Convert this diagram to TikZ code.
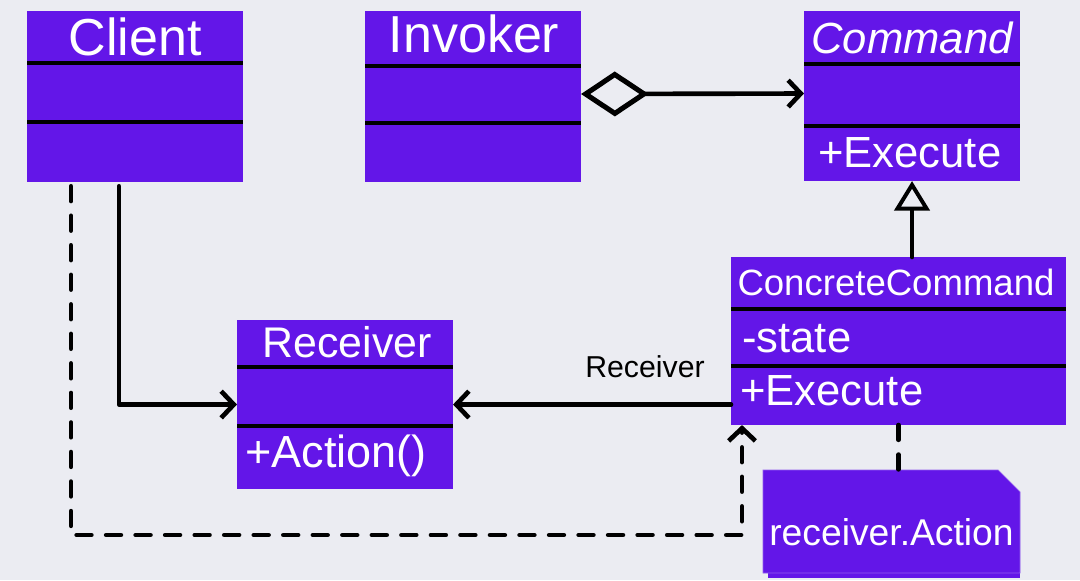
\documentclass[tikz,border=0pt]{standalone}
\usepackage{fontspec}
\setmainfont{Liberation Sans}
\usepackage{xcolor}
\usepackage{tikz}
\usetikzlibrary{positioning, arrows.meta, calc}

\definecolor{classfill}{RGB}{99,22,232}
\definecolor{canvas}{RGB}{235,236,242}

\begin{document}
\begin{tikzpicture}[x=0.025cm, y=-0.025cm,
    classbox/.style={rectangle, fill=classfill, anchor=north west, inner sep=0pt, outer sep=0pt, minimum width=5.4cm},
    divider/.style={line width=2.4pt, black},
    title/.style={text=white, anchor=base, inner sep=0pt},
    member/.style={text=white, anchor=base west, inner sep=0pt, font=\fontsize{31}{34}\selectfont},
    link/.style={line width=3.3pt, line cap=round, line join=round},
    dashlink/.style={link, dash pattern=on 10.5pt off 10.5pt},
    barb/.style={-{Straight Barb[length=9pt, width=19pt]}}
  ]
  % canvas
  \fill[canvas] (0,0) rectangle (1080,580);
  \useasboundingbox (0,0) rectangle (1080,580);

  % classes
  \node[classbox, minimum height=4.275cm] (client) at (27,11) {};
  \draw[divider] (client.west |- 0,63) -- (client.east |- 0,63);
  \draw[divider] (client.west |- 0,122) -- (client.east |- 0,122);
  \node[title, font=\fontsize{37}{40}\selectfont] (clienttitle) at (135,55) {Client};

  \node[classbox, minimum height=4.275cm] (invoker) at (365,11) {};
  \draw[divider] (invoker.west |- 0,66) -- (invoker.east |- 0,66);
  \draw[divider] (invoker.west |- 0,123) -- (invoker.east |- 0,123);
  \node[title, font=\fontsize{37}{40}\selectfont] (invokertitle) at (474,52) {Invoker};

  \node[classbox, minimum height=4.25cm] (command) at (804,11) {};
  \draw[divider] (command.west |- 0,64) -- (command.east |- 0,64);
  \draw[divider] (command.west |- 0,126) -- (command.east |- 0,126);
  \node[title, font=\fontsize{31}{34}\selectfont\itshape] (commandtitle) at (912,53) {Command};
  \node[member] (commandexec) at (818,167) {+Execute};

  \node[classbox, minimum width=8.375cm, minimum height=4.2cm] (concrete) at (731,257) {};
  \draw[divider] (concrete.west |- 0,309) -- (concrete.east |- 0,309);
  \draw[divider] (concrete.west |- 0,366) -- (concrete.east |- 0,366);
  \node[title, font=\fontsize{26}{29}\selectfont] (concretetitle) at (896,295) {ConcreteCommand};
  \node[member] (concretestate) at (742,352) {-state};
  \node[member] (concreteexec) at (740,405) {+Execute};

  \node[classbox, minimum height=4.225cm] (receiver) at (237,320) {};
  \draw[divider] (receiver.west |- 0,367) -- (receiver.east |- 0,367);
  \draw[divider] (receiver.west |- 0,426) -- (receiver.east |- 0,426);
  \node[title, font=\fontsize{30.5}{33}\selectfont] (receivertitle) at (347,357) {Receiver};
  \node[member, font=\fontsize{32}{35}\selectfont] (receiveraction) at (245,467) {+Action()};

  % note
  \node[rectangle, anchor=north west, inner sep=0pt, outer sep=0pt, minimum width=6.425cm, minimum height=2.575cm] (note) at (763,470) {};
  \fill[classfill] ($(note.south west)+(5,5)$) rectangle ($(note.east)+(0,5)$);
  \filldraw[fill=classfill, draw=classfill!70!white, line width=0.5pt] (note.south west) -- (note.north west) -- ($(note.north east)+(-22,0)$)
    -- ($(note.north east)+(0,22)$) -- (note.south east) -- cycle;
  \node[member, font=\fontsize{26.5}{29}\selectfont] (notetext) at (769,545) {receiver.Action};

  % connectors
  \draw[link, {Diamond[open, length=48pt, width=32pt, line width=3.6pt]}-{Straight Barb[length=9pt, width=19pt]}] ([yshift=2.5*0.025cm]invoker.east) -- ([yshift=2.5*0.025cm]command.west);
  \draw[link, -{Triangle[open, length=21pt, width=25pt, line width=2.8pt]}] (command.south |- concrete.north) -- (command.south);
  \draw[link, barb, shorten <=3pt] (client.south -| 119,0) |- (receiver.west);
  \draw[link, barb] (concrete.west |- receiver.west) -- (receiver.east);
  \node[anchor=base, inner sep=0pt, font=\fontsize{21.5}{24}\selectfont] (rolelabel) at (645,377) {Receiver};
  \coordinate (dashcorner) at (742,535);
  \draw[dashlink, barb, shorten <=3pt] (client.south -| 71,0) |- (dashcorner) -- (concrete.south -| dashcorner);
  \draw[dashlink] (concrete.south) -- (concrete.south |- note.north);
\end{tikzpicture}
\end{document}
